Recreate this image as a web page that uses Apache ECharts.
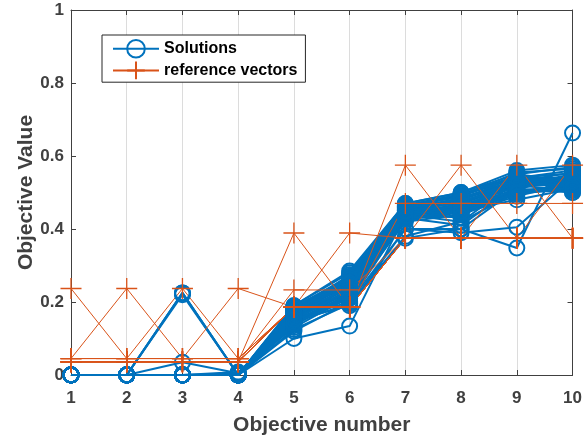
<!DOCTYPE html>
<html>
<head>
<meta charset="utf-8">
<script src="https://cdn.jsdelivr.net/npm/echarts@6/dist/echarts.min.js"></script>
<style>html,body{margin:0;padding:0;background:#fff;}#c{width:585px;height:442px;}</style>
</head>
<body>
<div id="c"></div>
<script>
// Objective indices (x axis)
const objectives = [1, 2, 3, 4, 5, 6, 7, 8, 9, 10];
const yTicks = [0, 0.2, 0.4, 0.6, 0.8, 1];

// Solutions (blue lines, circle markers), one row per solution
const solutions = [
  [0, 0, 0, 0, 0.19, 0.28, 0.47, 0.50, 0.55, 0.53],
  [0, 0, 0, 0, 0.185, 0.27, 0.465, 0.495, 0.545, 0.52],
  [0, 0, 0, 0, 0.18, 0.265, 0.46, 0.49, 0.54, 0.54],
  [0, 0, 0, 0, 0.175, 0.26, 0.455, 0.485, 0.535, 0.525],
  [0, 0, 0, 0, 0.17, 0.255, 0.45, 0.48, 0.53, 0.515],
  [0, 0, 0, 0.005, 0.165, 0.25, 0.445, 0.475, 0.525, 0.535],
  [0, 0, 0, 0, 0.16, 0.245, 0.44, 0.47, 0.52, 0.55],
  [0, 0, 0, 0, 0.155, 0.24, 0.445, 0.465, 0.515, 0.53],
  [0, 0, 0, 0, 0.15, 0.235, 0.44, 0.46, 0.51, 0.545],
  [0, 0, 0, 0, 0.145, 0.23, 0.435, 0.455, 0.505, 0.52],
  [0, 0, 0, 0, 0.14, 0.225, 0.43, 0.45, 0.50, 0.51],
  [0, 0, 0, 0, 0.135, 0.22, 0.425, 0.445, 0.495, 0.53],
  [0, 0, 0, 0.008, 0.13, 0.215, 0.42, 0.44, 0.49, 0.525],
  [0, 0, 0, 0, 0.185, 0.24, 0.46, 0.44, 0.55, 0.57],
  [0, 0, 0, 0, 0.175, 0.22, 0.45, 0.43, 0.54, 0.56],
  [0, 0, 0, 0, 0.165, 0.21, 0.44, 0.42, 0.53, 0.555],
  [0, 0, 0, 0, 0.155, 0.20, 0.43, 0.41, 0.52, 0.505],
  [0, 0, 0, 0, 0.15, 0.19, 0.40, 0.40, 0.51, 0.50],
  [0, 0, 0, 0, 0.145, 0.195, 0.38, 0.42, 0.50, 0.515],
  [0, 0, 0.225, 0, 0.17, 0.25, 0.455, 0.47, 0.525, 0.53],
  [0, 0, 0.225, 0, 0.16, 0.23, 0.44, 0.46, 0.52, 0.52],
  [0, 0, 0.22, 0, 0.175, 0.26, 0.45, 0.48, 0.535, 0.54],
  [0, 0, 0.035, 0.005, 0.14, 0.21, 0.43, 0.45, 0.48, 0.51],
  [0, 0, 0, 0, 0.10, 0.134, 0.44, 0.46, 0.50, 0.52],
  [0, 0, 0, 0, 0.125, 0.195, 0.375, 0.40, 0.348, 0.663],
  [0, 0, 0, 0, 0.12, 0.20, 0.40, 0.39, 0.405, 0.54],
  [0, 0, 0, 0, 0.19, 0.285, 0.47, 0.50, 0.56, 0.575],
  [0, 0, 0, 0, 0.18, 0.27, 0.465, 0.49, 0.555, 0.565],
  [0, 0, 0, 0, 0.16, 0.26, 0.455, 0.48, 0.545, 0.50],
  [0, 0, 0, 0, 0.17, 0.275, 0.46, 0.495, 0.54, 0.51],
  [0, 0, 0, 0, 0.188, 0.262, 0.468, 0.472, 0.532, 0.528],
  [0, 0, 0, 0, 0.178, 0.248, 0.452, 0.462, 0.518, 0.538],
  [0, 0, 0, 0, 0.168, 0.238, 0.442, 0.452, 0.508, 0.548],
  [0, 0, 0, 0, 0.158, 0.228, 0.438, 0.458, 0.528, 0.518],
  [0, 0, 0, 0, 0.148, 0.218, 0.432, 0.468, 0.538, 0.532],
  [0, 0, 0.224, 0, 0.182, 0.252, 0.458, 0.478, 0.512, 0.542],
  [0, 0, 0, 0, 0.172, 0.268, 0.462, 0.488, 0.522, 0.522],
  [0, 0, 0, 0, 0.162, 0.242, 0.448, 0.442, 0.502, 0.512],
  [0, 0, 0, 0, 0.152, 0.232, 0.436, 0.432, 0.542, 0.552],
  [0, 0, 0, 0, 0.142, 0.212, 0.428, 0.448, 0.498, 0.508]
];

// Reference vectors (orange lines, plus markers)
const referenceVectors = [
  [0.237, 0.045, 0.045, 0.045, 0.186, 0.186, 0.375, 0.375, 0.375, 0.375],
  [0.045, 0.237, 0.045, 0.045, 0.186, 0.186, 0.375, 0.375, 0.375, 0.375],
  [0.045, 0.045, 0.237, 0.045, 0.186, 0.186, 0.375, 0.375, 0.375, 0.375],
  [0.045, 0.045, 0.045, 0.237, 0.186, 0.186, 0.375, 0.375, 0.375, 0.375],
  [0.036, 0.036, 0.036, 0.036, 0.389, 0.186, 0.375, 0.375, 0.375, 0.375],
  [0.036, 0.036, 0.036, 0.036, 0.186, 0.389, 0.375, 0.375, 0.375, 0.375],
  [0.036, 0.036, 0.036, 0.036, 0.233, 0.233, 0.375, 0.375, 0.375, 0.375],
  [0.036, 0.036, 0.036, 0.036, 0.186, 0.186, 0.575, 0.375, 0.375, 0.375],
  [0.036, 0.036, 0.036, 0.036, 0.186, 0.186, 0.375, 0.575, 0.375, 0.375],
  [0.036, 0.036, 0.036, 0.036, 0.186, 0.186, 0.375, 0.375, 0.575, 0.375],
  [0.036, 0.036, 0.036, 0.036, 0.186, 0.186, 0.375, 0.375, 0.375, 0.575],
  [0.036, 0.036, 0.036, 0.036, 0.186, 0.186, 0.47, 0.47, 0.47, 0.47]
];

const BLUE = '#0072BD';
const ORANGE = '#D95319';
const AXIS = '#404040';
const PLUS = 'path://M0,10L20,10M10,0L10,20';

const toPoints = row => row.map((v, i) => [objectives[i], v]);

const series = [];
solutions.forEach(row => {
  series.push({
    name: 'Solutions', type: 'line', data: toPoints(row),
    symbol: 'circle', symbolSize: 15, clip: false,
    lineStyle: { color: BLUE, width: 2 },
    itemStyle: { color: 'rgba(0,0,0,0)', borderColor: BLUE, borderWidth: 2 },
    emphasis: { disabled: true }
  });
});
referenceVectors.forEach(row => {
  series.push({
    name: 'reference vectors', type: 'line', data: toPoints(row),
    symbol: PLUS, symbolSize: 21, clip: false,
    lineStyle: { color: ORANGE, width: 1 },
    itemStyle: { color: 'rgba(0,0,0,0)', borderColor: ORANGE, borderWidth: 1.3 },
    emphasis: { disabled: true }
  });
});

const chart = echarts.init(document.getElementById('c'), null, { renderer: 'canvas' });
const font = 'Liberation Sans, Arial, Helvetica, sans-serif';
chart.setOption({
  animation: false,
  backgroundColor: '#fff',
  textStyle: { fontFamily: font },
  grid: { left: 71, right: 10, top: 10, bottom: 67, containLabel: false },
  legend: {
    data: ['Solutions', 'reference vectors'],
    orient: 'vertical', left: 102, top: 35,
    padding: [4, 8, 2, 10], itemGap: 2, itemWidth: 46, itemHeight: 22,
    backgroundColor: '#fff', borderColor: '#262626', borderWidth: 1,
    textStyle: { fontFamily: font, fontWeight: 'bold', fontSize: 16, color: '#000' },
    selectedMode: false
  },
  xAxis: [{
    type: 'value', min: 1, max: 10, interval: 1, position: 'bottom',
    name: 'Objective number', nameLocation: 'middle', nameGap: 40, nameMoveOverlap: false,
    nameTextStyle: { fontFamily: font, fontWeight: 'bold', fontSize: 21, color: AXIS },
    axisLine: { show: true, lineStyle: { color: AXIS, width: 1 } },
    axisTick: { show: true, inside: true, length: 5, lineStyle: { color: AXIS } },
    axisLabel: { margin: 15, fontFamily: font, fontWeight: 'bold', fontSize: 17, color: AXIS },
    splitLine: { show: true, lineStyle: { color: '#dcdcdc', width: 1 } }
  }, {
    type: 'value', min: 1, max: 10, interval: 1, position: 'top',
    axisLine: { show: true, onZero: false, lineStyle: { color: AXIS, width: 1 } },
    axisTick: { show: true, inside: true, length: 5, lineStyle: { color: AXIS } },
    axisLabel: { show: false }, splitLine: { show: false }
  }],
  yAxis: [{
    type: 'value', min: 0, max: 1, interval: 0.2, position: 'left',
    name: 'Objective Value', nameLocation: 'middle', nameGap: 34, nameMoveOverlap: false,
    nameTextStyle: { fontFamily: font, fontWeight: 'bold', fontSize: 21, color: AXIS },
    axisLine: { show: true, lineStyle: { color: AXIS, width: 1 } },
    axisTick: { show: true, inside: true, length: 5, lineStyle: { color: AXIS } },
    axisLabel: { margin: 7, fontFamily: font, fontWeight: 'bold', fontSize: 17, color: AXIS,
      formatter: v => { const t = yTicks.find(x => Math.abs(x - v) < 1e-9); return t === undefined ? '' : String(t); } },
    splitLine: { show: false }
  }, {
    type: 'value', min: 0, max: 1, interval: 0.2, position: 'right',
    axisLine: { show: true, onZero: false, lineStyle: { color: AXIS, width: 1 } },
    axisTick: { show: true, inside: true, length: 5, lineStyle: { color: AXIS } },
    axisLabel: { show: false }, splitLine: { show: false }
  }],
  series: series
});
</script>
</body>
</html>
